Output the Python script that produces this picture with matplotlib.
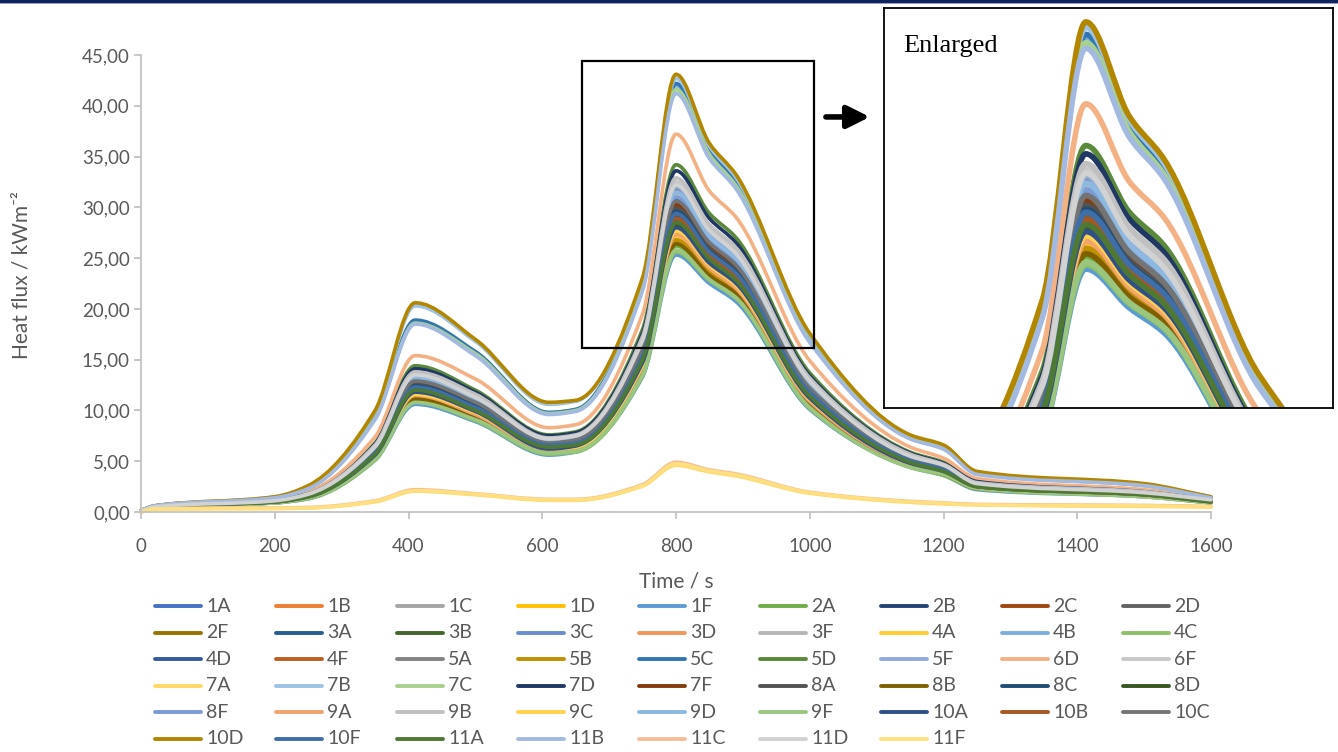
import matplotlib
matplotlib.use("Agg")
import matplotlib.pyplot as plt
from matplotlib.lines import Line2D
from matplotlib.patches import Rectangle, PathPatch
from matplotlib.path import Path
from matplotlib.ticker import FuncFormatter

plt.rcParams['font.family'] = ['Lato', 'DejaVu Sans']

# sample times (s)
time_s = [0, 20, 200, 250, 350, 410, 500, 610, 650, 750, 800, 850, 890, 1000, 1150, 1200, 1250, 1500, 1600]

# heat flux per thermocouple (kW/m2)
hf_1A = [0.12, 0.5, 1.0, 1.55, 5.9, 12.4, 10.4, 6.6, 6.8, 15.5, 29.5, 25.7, 23.5, 11.8, 5.1, 4.2, 2.6, 1.8, 1.1]
hf_1B = [0.12, 0.5, 1.0, 1.5, 5.8, 12.1, 10.1, 6.4, 6.7, 15.1, 28.8, 25.1, 23.0, 11.5, 5.0, 4.1, 2.5, 1.7, 1.0]
hf_1C = [0.12, 0.5, 1.05, 1.65, 6.1, 12.8, 10.7, 6.8, 7.1, 16.0, 30.5, 26.4, 24.2, 12.2, 5.2, 4.3, 2.7, 1.8, 1.1]
hf_1D = [0.12, 0.5, 0.95, 1.45, 5.5, 11.5, 9.6, 6.1, 6.4, 14.4, 27.4, 24.0, 22.1, 11.0, 4.7, 3.9, 2.4, 1.6, 1.0]
hf_1F = [0.12, 0.5, 0.9, 1.3, 5.1, 10.6, 8.9, 5.6, 5.9, 13.3, 25.3, 22.5, 20.7, 10.1, 4.4, 3.6, 2.2, 1.5, 0.9]
hf_2A = [0.12, 0.5, 0.9, 1.35, 5.2, 11.0, 9.2, 5.8, 6.1, 13.8, 26.2, 23.2, 21.4, 10.5, 4.5, 3.7, 2.3, 1.6, 0.9]
hf_2B = [0.12, 0.5, 1.0, 1.55, 5.8, 12.2, 10.2, 6.5, 6.7, 15.2, 29.0, 25.3, 23.2, 11.6, 5.0, 4.1, 2.6, 1.7, 1.0]
hf_2C = [0.12, 0.5, 1.05, 1.6, 6.0, 12.6, 10.6, 6.7, 7.0, 15.8, 30.0, 26.0, 23.9, 12.0, 5.2, 4.3, 2.6, 1.8, 1.1]
hf_2D = [0.12, 0.5, 1.0, 1.55, 5.9, 12.3, 10.3, 6.5, 6.8, 15.4, 29.3, 25.5, 23.4, 11.7, 5.0, 4.2, 2.6, 1.8, 1.1]
hf_2F = [0.12, 0.5, 0.95, 1.4, 5.3, 11.2, 9.4, 5.9, 6.2, 14.0, 26.6, 23.5, 21.6, 10.6, 4.6, 3.8, 2.3, 1.6, 1.0]
hf_3A = [0.12, 0.5, 1.0, 1.5, 5.7, 12.0, 10.1, 6.4, 6.6, 15.0, 28.6, 25.0, 22.9, 11.4, 4.9, 4.1, 2.5, 1.7, 1.0]
hf_3B = [0.12, 0.5, 1.0, 1.45, 5.6, 11.7, 9.8, 6.2, 6.5, 14.6, 27.9, 24.4, 22.4, 11.2, 4.8, 4.0, 2.5, 1.7, 1.0]
hf_3C = [0.12, 0.5, 1.1, 1.7, 6.3, 13.1, 11.0, 7.0, 7.3, 16.4, 31.3, 27.0, 24.8, 12.5, 5.4, 4.4, 2.8, 1.9, 1.1]
hf_3D = [0.12, 0.5, 1.0, 1.5, 5.7, 11.9, 10.0, 6.3, 6.6, 14.9, 28.4, 24.8, 22.7, 11.4, 4.9, 4.0, 2.5, 1.7, 1.0]
hf_3F = [0.12, 0.5, 1.1, 1.7, 6.2, 13.1, 11.0, 7.0, 7.2, 16.4, 31.2, 26.9, 24.7, 12.5, 5.4, 4.4, 2.7, 1.9, 1.1]
hf_4A = [0.12, 0.5, 0.95, 1.4, 5.4, 11.3, 9.5, 6.0, 6.3, 14.2, 27.0, 23.8, 21.8, 10.8, 4.6, 3.8, 2.4, 1.6, 1.0]
hf_4B = [0.15, 0.6, 1.4, 2.4, 9.3, 18.8, 15.7, 9.8, 10.1, 22.3, 42.0, 35.5, 32.4, 17.0, 7.3, 6.3, 3.8, 2.6, 1.4]
hf_4C = [0.12, 0.5, 0.9, 1.3, 5.1, 10.8, 9.0, 5.7, 5.9, 13.4, 25.6, 22.8, 21.0, 10.2, 4.4, 3.6, 2.3, 1.5, 0.9]
hf_4D = [0.12, 0.5, 1.05, 1.65, 6.2, 12.9, 10.8, 6.9, 7.1, 16.2, 30.8, 26.6, 24.5, 12.3, 5.3, 4.4, 2.7, 1.8, 1.1]
hf_4F = [0.12, 0.5, 1.05, 1.6, 6.0, 12.5, 10.5, 6.6, 6.9, 15.6, 29.8, 25.9, 23.8, 11.9, 5.1, 4.2, 2.6, 1.8, 1.1]
hf_5A = [0.12, 0.5, 1.1, 1.7, 6.4, 13.4, 11.2, 7.1, 7.4, 16.7, 31.8, 27.3, 25.1, 12.7, 5.5, 4.5, 2.8, 1.9, 1.1]
hf_5B = [0.12, 0.5, 0.95, 1.4, 5.4, 11.3, 9.4, 6.0, 6.2, 14.1, 26.8, 23.6, 21.7, 10.7, 4.6, 3.8, 2.4, 1.6, 1.0]
hf_5C = [0.15, 0.6, 1.4, 2.4, 9.4, 18.9, 15.8, 9.8, 10.1, 22.4, 42.2, 35.7, 32.6, 17.1, 7.4, 6.3, 3.8, 2.7, 1.4]
hf_5D = [0.12, 0.5, 1.15, 1.85, 6.8, 14.4, 12.0, 7.6, 7.9, 18.0, 34.2, 29.4, 27.0, 13.7, 5.9, 4.9, 3.0, 2.1, 1.2]
hf_5F = [0.12, 0.5, 1.1, 1.75, 6.4, 13.4, 11.3, 7.1, 7.4, 16.8, 32.0, 27.5, 25.3, 12.8, 5.5, 4.5, 2.8, 1.9, 1.2]
hf_6D = [0.12, 0.5, 1.25, 2.0, 7.4, 15.4, 13.1, 8.3, 8.6, 19.5, 37.2, 31.6, 29.0, 14.9, 6.4, 5.3, 3.3, 2.2, 1.3]
hf_6F = [0.12, 0.5, 1.1, 1.75, 6.5, 13.7, 11.4, 7.2, 7.5, 17.1, 32.5, 28.0, 25.7, 13.0, 5.6, 4.6, 2.9, 2.0, 1.2]
hf_7A = [0.0, 0.3, 0.35, 0.4, 1.0, 2.05, 1.7, 1.15, 1.15, 2.55, 4.6, 3.95, 3.55, 1.85, 0.95, 0.8, 0.7, 0.55, 0.5]
hf_7B = [0.15, 0.6, 1.5, 2.5, 9.9, 20.3, 16.8, 10.6, 10.9, 22.8, 42.7, 36.0, 32.9, 17.4, 7.5, 6.5, 3.9, 2.7, 1.5]
hf_7C = [0.15, 0.6, 1.4, 2.3, 9.2, 18.6, 15.6, 9.7, 10.0, 22.0, 41.6, 35.2, 32.1, 16.8, 7.3, 6.2, 3.8, 2.6, 1.4]
hf_7D = [0.12, 0.5, 1.15, 1.8, 6.7, 14.1, 11.8, 7.5, 7.8, 17.6, 33.6, 28.9, 26.5, 13.4, 5.8, 4.8, 3.0, 2.0, 1.2]
hf_7F = [0.12, 0.5, 1.05, 1.6, 6.1, 12.7, 10.7, 6.8, 7.0, 15.9, 30.3, 26.2, 24.1, 12.1, 5.2, 4.3, 2.7, 1.8, 1.1]
hf_8A = [0.12, 0.5, 1.05, 1.6, 6.0, 12.6, 10.5, 6.7, 6.9, 15.7, 29.9, 25.9, 23.8, 12.0, 5.1, 4.2, 2.6, 1.8, 1.1]
hf_8B = [0.12, 0.5, 0.95, 1.4, 5.3, 11.1, 9.3, 5.9, 6.1, 13.9, 26.4, 23.3, 21.5, 10.6, 4.5, 3.7, 2.3, 1.6, 1.0]
hf_8C = [0.12, 0.5, 1.0, 1.6, 5.9, 12.4, 10.4, 6.6, 6.9, 15.5, 29.6, 25.7, 23.6, 11.8, 5.1, 4.2, 2.6, 1.8, 1.1]
hf_8D = [0.12, 0.5, 1.0, 1.5, 5.6, 11.8, 9.9, 6.3, 6.5, 14.8, 28.2, 24.7, 22.6, 11.3, 4.9, 4.0, 2.5, 1.7, 1.0]
hf_8F = [0.12, 0.5, 1.1, 1.7, 6.2, 13.0, 10.9, 6.9, 7.2, 16.3, 31.0, 26.8, 24.6, 12.4, 5.3, 4.4, 2.7, 1.9, 1.1]
hf_9A = [0.12, 0.5, 0.95, 1.45, 5.5, 11.5, 9.6, 6.1, 6.3, 14.3, 27.3, 24.0, 22.0, 10.9, 4.7, 3.9, 2.4, 1.6, 1.0]
hf_9B = [0.12, 0.5, 1.1, 1.8, 6.6, 13.8, 11.6, 7.3, 7.6, 17.3, 32.9, 28.3, 26.0, 13.2, 5.7, 4.7, 2.9, 2.0, 1.2]
hf_9C = [0.12, 0.5, 0.95, 1.45, 5.5, 11.6, 9.8, 6.2, 6.4, 14.5, 27.7, 24.3, 22.3, 11.1, 4.8, 3.9, 2.4, 1.7, 1.0]
hf_9D = [0.12, 0.5, 1.1, 1.7, 6.3, 13.2, 11.1, 7.0, 7.3, 16.5, 31.5, 27.1, 24.9, 12.6, 5.4, 4.5, 2.8, 1.9, 1.1]
hf_9F = [0.12, 0.5, 0.9, 1.35, 5.2, 10.8, 9.1, 5.8, 6.0, 13.5, 25.8, 22.9, 21.1, 10.3, 4.4, 3.7, 2.3, 1.5, 0.9]
hf_10A = [0.12, 0.5, 1.0, 1.5, 5.6, 11.8, 9.9, 6.2, 6.5, 14.7, 28.0, 24.5, 22.5, 11.2, 4.8, 4.0, 2.5, 1.7, 1.0]
hf_10B = [0.12, 0.5, 1.0, 1.55, 5.8, 12.1, 10.2, 6.4, 6.7, 15.2, 28.9, 25.2, 23.1, 11.6, 5.0, 4.1, 2.5, 1.7, 1.0]
hf_10C = [0.12, 0.5, 1.05, 1.65, 6.1, 12.9, 10.8, 6.8, 7.1, 16.1, 30.6, 26.5, 24.3, 12.2, 5.3, 4.3, 2.7, 1.8, 1.1]
hf_10D = [0.15, 0.6, 1.5, 2.6, 10.0, 20.6, 17.0, 10.8, 11.0, 23.1, 43.1, 36.3, 33.2, 17.6, 7.6, 6.6, 4.0, 2.8, 1.5]
hf_10F = [0.12, 0.5, 1.0, 1.55, 5.9, 12.3, 10.3, 6.6, 6.8, 15.4, 29.4, 25.6, 23.5, 11.8, 5.1, 4.2, 2.6, 1.8, 1.1]
hf_11A = [0.12, 0.5, 1.0, 1.5, 5.7, 12.0, 10.0, 6.4, 6.6, 15.0, 28.5, 24.9, 22.8, 11.4, 4.9, 4.0, 2.5, 1.7, 1.0]
hf_11B = [0.15, 0.6, 1.4, 2.3, 9.1, 18.5, 15.4, 9.6, 9.9, 21.8, 41.2, 34.8, 31.8, 16.7, 7.2, 6.2, 3.7, 2.6, 1.4]
hf_11C = [0.0, 0.35, 0.4, 0.45, 1.1, 2.2, 1.8, 1.25, 1.25, 2.7, 4.9, 4.15, 3.75, 1.95, 1.05, 0.9, 0.75, 0.65, 0.55]
hf_11D = [0.12, 0.5, 1.1, 1.75, 6.4, 13.5, 11.3, 7.2, 7.5, 16.9, 32.2, 27.7, 25.4, 12.9, 5.5, 4.6, 2.8, 1.9, 1.2]
hf_11F = [0.0, 0.3, 0.35, 0.4, 1.05, 2.1, 1.75, 1.2, 1.2, 2.6, 4.75, 4.05, 3.65, 1.9, 1.0, 0.85, 0.7, 0.6, 0.5]

names = ["1A", "1B", "1C", "1D", "1F", "2A", "2B", "2C", "2D",
         "2F", "3A", "3B", "3C", "3D", "3F", "4A", "4B", "4C",
         "4D", "4F", "5A", "5B", "5C", "5D", "5F", "6D", "6F",
         "7A", "7B", "7C", "7D", "7F", "8A", "8B", "8C", "8D",
         "8F", "9A", "9B", "9C", "9D", "9F", "10A", "10B", "10C",
         "10D", "10F", "11A", "11B", "11C", "11D", "11F"]

series = [hf_1A, hf_1B, hf_1C, hf_1D, hf_1F, hf_2A, hf_2B, hf_2C, hf_2D,
          hf_2F, hf_3A, hf_3B, hf_3C, hf_3D, hf_3F, hf_4A, hf_4B, hf_4C,
          hf_4D, hf_4F, hf_5A, hf_5B, hf_5C, hf_5D, hf_5F, hf_6D, hf_6F,
          hf_7A, hf_7B, hf_7C, hf_7D, hf_7F, hf_8A, hf_8B, hf_8C, hf_8D,
          hf_8F, hf_9A, hf_9B, hf_9C, hf_9D, hf_9F, hf_10A, hf_10B, hf_10C,
          hf_10D, hf_10F, hf_11A, hf_11B, hf_11C, hf_11D, hf_11F]

# office colour cycle
colors = ["#4472C4", "#ED7D31", "#A5A5A5", "#FFC000", "#5B9BD5", "#70AD47",
          "#264478", "#9E480E", "#636363", "#997300", "#255E91", "#43682B",
          "#698ED0", "#F1975A", "#B7B7B7", "#FFCD33", "#7CAFDD", "#8CC168",
          "#335AA1", "#BC5F1F", "#848484", "#C09100", "#3276B1", "#5A8A39",
          "#8FAADC", "#F4B183", "#C9C9C9", "#FFD966", "#9DC3E6", "#A9D18E",
          "#203864", "#843C0C", "#525252", "#7F6000", "#1F4E79", "#385723",
          "#7C9CD6", "#F2A46F", "#C0C0C0", "#FFD34D", "#8CB9E2", "#9BC67E",
          "#305089", "#A65822", "#747474", "#B38600", "#3F6FA8", "#4E7932",
          "#A2B9E2", "#F6BE98", "#D2D2D2", "#FFE080"]


def smooth_path(x, y):
    # smoothed line through every point, no overshoot (monotone cubic tangents)
    n = len(x)
    h = [x[i + 1] - x[i] for i in range(n - 1)]
    d = [(y[i + 1] - y[i]) / h[i] for i in range(n - 1)]
    m = [d[0]] + [0.0] * (n - 2) + [d[-1]]
    for i in range(1, n - 1):
        if d[i - 1] * d[i] > 0:
            w1 = 2 * h[i] + h[i - 1]
            w2 = h[i] + 2 * h[i - 1]
            m[i] = (w1 + w2) / (w1 / d[i - 1] + w2 / d[i])
    verts = [(x[0], y[0])]
    codes = [Path.MOVETO]
    for i in range(n - 1):
        verts += [(x[i] + h[i] / 3, y[i] + m[i] * h[i] / 3),
                  (x[i + 1] - h[i] / 3, y[i + 1] - m[i + 1] * h[i] / 3),
                  (x[i + 1], y[i + 1])]
        codes += [Path.CURVE4] * 3
    return Path(verts, codes)


W, H = 1338, 752
fig = plt.figure(figsize=(W / 100, H / 100), dpi=100)

# slide band at the top
fig.add_artist(Rectangle((0, 1 - 3 / H), 1, 3 / H, transform=fig.transFigure, color="#0D2461", lw=0))
fig.add_artist(Rectangle((0, 1 - 4 / H), 1, 1 / H, transform=fig.transFigure, color="#9AA3B8", lw=0))

ax = fig.add_axes([141 / W, 1 - 512 / H, 1070 / W, 457 / H])
for vals, col in zip(series, colors):
    ax.add_patch(PathPatch(smooth_path(time_s, vals), fill=False, ec=col, lw=2.6,
                           joinstyle="round", capstyle="round", clip_on=False))

ax.set_xlim(0, 1600)
ax.set_ylim(0, 45)
ax.set_xticks(range(0, 1601, 200))
ax.set_yticks(range(0, 46, 5))
ax.yaxis.set_major_formatter(FuncFormatter(lambda v, p: f"{v:.2f}".replace(".", ",")))
for s in ["top", "right"]:
    ax.spines[s].set_visible(False)
for s in ["left", "bottom"]:
    ax.spines[s].set_color("#BFBFBF")
    ax.spines[s].set_linewidth(1.2)
ax.tick_params(colors="#BFBFBF", labelcolor="#595959", labelsize=13.5, length=5, width=1.2, direction="out")
ax.tick_params(axis="y", pad=3)
ax.tick_params(axis="x", pad=14)

fig.text(22 / W, 1 - 275 / H, "Heat flux / kWm⁻²", rotation=90, ha="center", va="center", fontsize=15, color="#595959")
fig.text(676 / W, 1 - 581 / H, "Time / s", ha="center", va="center", fontsize=15, color="#595959")

# zoom box and arrow
ax.add_patch(Rectangle((659, 16.1), 347, 28.3, fill=False, ec="black", lw=1.6, clip_on=False, zorder=5))
ax.annotate("", xy=(1094, 38.9), xytext=(1020, 38.9),
            arrowprops=dict(arrowstyle="-|>,head_length=0.8,head_width=0.4", lw=4, color="black", mutation_scale=17),
            annotation_clip=False)

# enlarged inset
axi = fig.add_axes([884 / W, 1 - 408 / H, 449 / W, 400 / H])
for vals, col in zip(series, colors):
    axi.add_patch(PathPatch(smooth_path(time_s, vals), fill=False, ec=col, lw=4,
                            joinstyle="round", capstyle="round"))
axi.set_xlim(568, 1084)
axi.set_ylim(15.3, 44.1)
axi.set_xticks([])
axi.set_yticks([])
for s in axi.spines.values():
    s.set_color("black")
    s.set_linewidth(1.3)
axi.text(0.042, 0.905, "Enlarged", transform=axi.transAxes, family="Liberation Serif", fontsize=19, va="center", ha="left")

# legend, row-major like the spreadsheet
for i, (name, col) in enumerate(zip(names, colors)):
    r, c = divmod(i, 9)
    x0 = 155 + c * 121
    y = 1 - (606 + r * 26.6) / H
    fig.add_artist(Line2D([x0 / W, (x0 + 46) / W], [y, y], transform=fig.transFigure, color=col,
                          lw=2.8, solid_capstyle="round"))
    fig.text((x0 + 51) / W, y, name, ha="left", va="center", fontsize=14, color="#595959")

fig.savefig("out.png", dpi=100)
